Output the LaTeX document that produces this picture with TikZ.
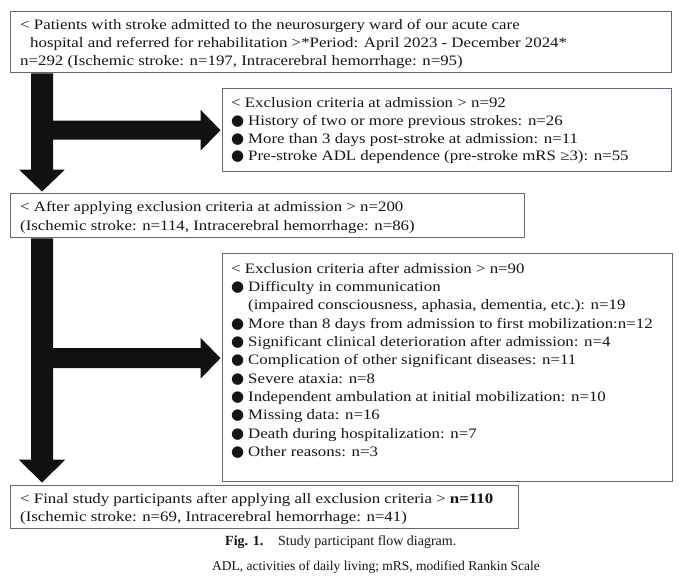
\documentclass[tikz,border=0pt]{standalone}
\usepackage{fontspec}
\setmainfont{Liberation Serif}
\newfontfamily\boxfont[FakeStretch=1.17]{Liberation Serif}
\newfontfamily\symfont{DejaVu Sans}
\usetikzlibrary{calc}
\definecolor{boxline}{HTML}{5F6873}
\definecolor{ink}{HTML}{151515}
\definecolor{arrowink}{HTML}{111111}
\newcommand\bul{\makebox[17pt][l]{\symfont\fontsize{15}{15}\selectfont ●}}
\tikzset{
  box/.style={draw=boxline, line width=1.4pt, rectangle, inner sep=0pt, anchor=north west},
  txt/.style={inner sep=0pt, anchor=base west, text=ink, font=\boxfont\fontsize{14.4}{18}\selectfont},
  captxt/.style={inner sep=0pt, anchor=base west, text=ink, font=\fontsize{14}{16}\selectfont},
  notetxt/.style={inner sep=0pt, anchor=base west, text=ink, font=\fontsize{13.5}{16}\selectfont},
  blockarrow/.style={fill=arrowink, draw=none}
}
\begin{document}
\begin{tikzpicture}[x=1pt,y=-1pt]
\useasboundingbox (0,0) rectangle (680,579);
% boxes
\node[box, minimum width=661pt, minimum height=61pt] (b1) at (10,11) {};
\node[box, minimum width=449.5pt, minimum height=83pt] (b2) at (221.5,88) {};
\node[box, minimum width=514pt, minimum height=44pt] (b3) at (10,193) {};
\node[box, minimum width=450pt, minimum height=228pt] (b4) at (221.5,253) {};
\node[box, minimum width=508pt, minimum height=43pt] (b5) at (10,485) {};
% box 1 text
\node[txt] (t1a) at (20,29.6) {< Patients with stroke admitted to the neurosurgery ward of our acute care};
\node[txt] (t1b) at (30,47.7) {hospital and referred for rehabilitation >*Period: April 2023 - December 2024*};
\node[txt] (t1c) at (20,65.8) {n=292 (Ischemic stroke: n=197, Intracerebral hemorrhage: n=95)};
% box 2 text
\node[txt] (t2a) at (231,107.5) {< Exclusion criteria at admission > n=92};
\node[txt] (t2b) at (231,125.3) {\bul History of two or more previous strokes: n=26};
\node[txt] (t2c) at (231,143.1) {\bul More than 3 days post-stroke at admission: n=11};
\node[txt] (t2d) at (231,160.9) {\bul Pre-stroke ADL dependence (pre-stroke mRS ≥3): n=55};
% box 3 text
\node[txt] (t3a) at (20,211.7) {< After applying exclusion criteria at admission > n=200};
\node[txt] (t3b) at (20,230) {(Ischemic stroke: n=114, Intracerebral hemorrhage: n=86)};
% box 4 text
\node[txt] (t4a) at (231,273.3) {< Exclusion criteria after admission > n=90};
\node[txt] (t4b) at (231,291.6) {\bul Difficulty in communication};
\node[txt] (t4c) at (248,309.9) {(impaired consciousness, aphasia, dementia, etc.): n=19};
\node[txt] (t4d) at (231,328.2) {\bul More than 8 days from admission to first mobilization:n=12};
\node[txt] (t4e) at (231,346.5) {\bul Significant clinical deterioration after admission: n=4};
\node[txt] (t4f) at (231,364.8) {\bul Complication of other significant diseases: n=11};
\node[txt] (t4g) at (231,383.1) {\bul Severe ataxia: n=8};
\node[txt] (t4h) at (231,401.4) {\bul Independent ambulation at initial mobilization: n=10};
\node[txt] (t4i) at (231,419.7) {\bul Missing data: n=16};
\node[txt] (t4j) at (231,438.0) {\bul Death during hospitalization: n=7};
\node[txt] (t4k) at (231,456.3) {\bul Other reasons: n=3};
% box 5 text
\node[txt] (t5a) at (20,503.3) {< Final study participants after applying all exclusion criteria > \textbf{n=110}};
\node[txt] (t5b) at (20,521) {(Ischemic stroke: n=69, Intracerebral hemorrhage: n=41)};
% caption
\node[captxt] (c1) at (225,545.7) {\textbf{Fig. 1.}};
\node[captxt] (c2) at (278,545.7) {Study participant flow diagram.};
\node[notetxt] (c3) at (212,570) {ADL, activities of daily living; mRS, modified Rankin Scale};
% arrow anchors
\coordinate (v1s) at ($(b1.south west)+(32,0)$);
\coordinate (v1e) at ($(b3.north west)+(32,-1.5)$);
\coordinate (h1e) at ($(b2.west)+(-1,0)$);
\coordinate (h1s) at (v1s |- h1e);
\coordinate (v2s) at ($(b3.south west)+(32,0)$);
\coordinate (v2e) at ($(b5.north west)+(32,-2.5)$);
\coordinate (h2e) at ($(b4.west)+(-1,-9.5)$);
\coordinate (h2s) at (v2s |- h2e);
% vertical arrows
\fill[blockarrow] let \p1=(v1s), \p2=(v1e) in
  (\x1-11pt,\y1) -- (\x1+11pt,\y1) -- (\x1+11pt,\y2+22pt) -- (\x1+23pt,\y2+22pt)
  -- (\x2,\y2) -- (\x1-23pt,\y2+22pt) -- (\x1-11pt,\y2+22pt) -- cycle;
\fill[blockarrow] let \p1=(v2s), \p2=(v2e) in
  (\x1-11pt,\y1) -- (\x1+11pt,\y1) -- (\x1+11pt,\y2+23pt) -- (\x1+23.5pt,\y2+23pt)
  -- (\x2,\y2) -- (\x1-23.5pt,\y2+23pt) -- (\x1-11pt,\y2+23pt) -- cycle;
% horizontal arrows
\fill[blockarrow] let \p1=(h1s), \p2=(h1e) in
  (\x1,\y1+9.5pt) -- (\x2-20pt,\y1+9.5pt) -- (\x2-20pt,\y1+20.5pt) -- (\x2,\y2)
  -- (\x2-20pt,\y1-20.5pt) -- (\x2-20pt,\y1-9.5pt) -- (\x1,\y1-9.5pt) -- cycle;
\fill[blockarrow] let \p1=(h2s), \p2=(h2e) in
  (\x1,\y1+10pt) -- (\x2-20pt,\y1+10pt) -- (\x2-20pt,\y1+20.5pt) -- (\x2,\y2)
  -- (\x2-20pt,\y1-20.5pt) -- (\x2-20pt,\y1-10pt) -- (\x1,\y1-10pt) -- cycle;
\end{tikzpicture}
\end{document}
